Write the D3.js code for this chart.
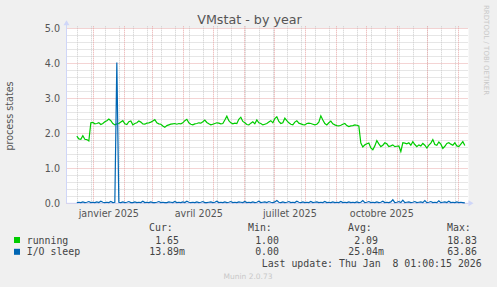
<!DOCTYPE html>
<html>
<head>
<meta charset="utf-8">
<script src="https://cdn.jsdelivr.net/npm/d3@7"></script>
<style>
  body { margin: 0; background: #f0f0f0; }
  svg { display: block; font-family: "DejaVu Sans", sans-serif; }
  .mono { font-family: "DejaVu Sans Mono", monospace; }
</style>
</head>
<body>
<div id="chart"></div>
<script>
// values, one every 2 days from 15 Dec 2024
var running = [
  1.92,1.84,1.83,1.93,1.83,1.82,1.78,2.30,2.31,2.27,
  2.28,2.30,2.25,2.28,2.33,2.36,2.41,2.36,2.28,2.24,
  2.27,2.28,2.32,2.36,2.27,2.25,2.33,2.35,2.24,2.28,
  2.30,2.35,2.32,2.27,2.26,2.29,2.30,2.32,2.35,2.39,
  2.30,2.27,2.26,2.21,2.17,2.22,2.24,2.26,2.27,2.28,
  2.26,2.28,2.27,2.30,2.36,2.40,2.30,2.26,2.24,2.27,
  2.28,2.30,2.29,2.33,2.38,2.31,2.27,2.24,2.26,2.28,
  2.30,2.29,2.27,2.28,2.38,2.49,2.36,2.30,2.27,2.29,
  2.28,2.40,2.46,2.34,2.30,2.25,2.24,2.29,2.33,2.27,
  2.38,2.30,2.28,2.24,2.26,2.28,2.32,2.36,2.30,2.42,
  2.47,2.34,2.28,2.30,2.43,2.36,2.30,2.26,2.24,2.32,
  2.36,2.29,2.27,2.25,2.24,2.28,2.29,2.28,2.26,2.24,
  2.26,2.32,2.50,2.38,2.28,2.24,2.30,2.35,2.27,2.24,
  2.22,2.21,2.23,2.26,2.28,2.22,2.19,2.21,2.22,2.24,
  2.23,2.21,1.72,1.61,1.67,1.70,1.72,1.58,1.53,1.64,
  1.79,1.70,1.62,1.66,1.73,1.70,1.62,1.64,1.67,1.62,
  1.63,1.64,1.48,1.73,1.72,1.70,1.73,1.66,1.76,1.68,
  1.62,1.67,1.64,1.71,1.66,1.58,1.66,1.72,1.82,1.68,
  1.66,1.75,1.69,1.57,1.63,1.71,1.73,1.69,1.66,1.73,
  1.64,1.62,1.69,1.76,1.65
];
var ioSleep = [
  0.02,0.03,0.02,0.04,0.02,0.03,0.05,0.02,0.03,0.02,
  0.04,0.02,0.06,0.03,0.02,0.03,0.02,0.05,0.02,0.03,
  4.02,0.03,0.02,0.04,0.02,0.03,0.05,0.02,0.02,0.04,
  0.02,0.03,0.02,0.06,0.02,0.03,0.02,0.04,0.02,0.02,
  0.03,0.05,0.02,0.03,0.02,0.02,0.04,0.03,0.02,0.05,
  0.02,0.03,0.02,0.04,0.02,0.06,0.03,0.02,0.03,0.02,
  0.04,0.02,0.03,0.05,0.02,0.02,0.03,0.04,0.02,0.03,
  0.06,0.02,0.03,0.02,0.04,0.02,0.03,0.05,0.02,0.03,
  0.02,0.04,0.03,0.02,0.05,0.02,0.03,0.02,0.04,0.02,
  0.03,0.06,0.02,0.03,0.04,0.02,0.05,0.03,0.02,0.04,
  0.08,0.03,0.02,0.04,0.02,0.03,0.05,0.02,0.03,0.02,
  0.06,0.03,0.02,0.04,0.02,0.03,0.02,0.05,0.02,0.03,
  0.04,0.02,0.03,0.02,0.05,0.02,0.03,0.02,0.04,0.02,
  0.03,0.02,0.05,0.02,0.03,0.02,0.04,0.02,0.03,0.02,
  0.04,0.02,0.03,0.08,0.02,0.03,0.05,0.02,0.03,0.02,
  0.04,0.02,0.03,0.06,0.02,0.03,0.02,0.04,0.10,0.02,
  0.03,0.05,0.02,0.09,0.02,0.03,0.04,0.02,0.03,0.05,
  0.02,0.03,0.04,0.02,0.08,0.02,0.03,0.05,0.02,0.03,
  0.02,0.07,0.02,0.03,0.04,0.02,0.06,0.02,0.03,0.02,
  0.04,0.02,0.03,0.02,0.01
];
var seriesNames = ["running", "I/O sleep"];
var seriesColors = ["#00cc00", "#0066b3"];
var curValues = ["1.65", "13.89m"];
var minValues = ["1.00", "0.00"];
var avgValues = ["2.09", "25.04m"];
var maxValues = ["18.83", "63.86"];
var yTicks = [0, 1, 2, 3, 4, 5];
var xLabels = ["janvier 2025", "avril 2025", "juillet 2025", "octobre 2025"];

var W = 497, H = 287;
var pLeft = 66.5, pRight = 466.5, pTop = 28.3, pBottom = 203.3;

var svg = d3.select("#chart").append("svg")
  .attr("width", W).attr("height", H);

svg.append("rect").attr("width", W).attr("height", H).attr("fill", "#f0f0f0");

var x = d3.scaleUtc()
  .domain([new Date(Date.UTC(2024, 11, 5, 4)), new Date(Date.UTC(2026, 0, 9, 4))])
  .range([pLeft, pRight]);
var y = d3.scaleLinear().domain([0, 5]).range([pBottom, pTop]);

var start = Date.UTC(2024, 11, 15, 12);
function dayAt(i) { return new Date(start + i * 2 * 864e5); }

// plot background
svg.append("rect")
  .attr("x", pLeft).attr("y", pTop)
  .attr("width", pRight - pLeft + 2).attr("height", pBottom - pTop)
  .attr("fill", "#ffffff");

// grid
var grid = svg.append("g");
var minorY = d3.range(0, 5.01, 0.2).filter(function (v) { return Math.abs(v - Math.round(v)) > 0.01; });
grid.selectAll(".hmin").data(minorY).enter().append("line")
  .attr("x1", pLeft).attr("x2", pRight + 1)
  .attr("y1", function (d) { return Math.round(y(d)) + 0.5; })
  .attr("y2", function (d) { return Math.round(y(d)) + 0.5; })
  .attr("stroke", "#cccccc").attr("stroke-dasharray", "1,1");

var weeks = d3.utcMonday.range(new Date(Date.UTC(2024, 11, 16)), x.domain()[1])
  .filter(function (d, i) { return i % 2 === 0; });
grid.selectAll(".vmin").data(weeks).enter().append("line")
  .attr("x1", function (d) { return Math.round(x(d)) + 0.5; })
  .attr("x2", function (d) { return Math.round(x(d)) + 0.5; })
  .attr("y1", pTop - 2).attr("y2", pBottom)
  .attr("stroke", "#cccccc").attr("stroke-dasharray", "1,1");

grid.selectAll(".hmaj").data(yTicks).enter().append("line")
  .attr("x1", pLeft).attr("x2", pRight + 1)
  .attr("y1", function (d) { return Math.round(y(d)) + 0.5; })
  .attr("y2", function (d) { return Math.round(y(d)) + 0.5; })
  .attr("stroke", "#e8a8a8").attr("stroke-dasharray", "1,1");

var months = d3.utcMonth.range(x.domain()[0], x.domain()[1]);
grid.selectAll(".vmaj").data(months).enter().append("line")
  .attr("x1", function (d) { return Math.round(x(d)) + 0.5; })
  .attr("x2", function (d) { return Math.round(x(d)) + 0.5; })
  .attr("y1", pTop - 2).attr("y2", pBottom)
  .attr("stroke", "#e8a8a8").attr("stroke-dasharray", "1,1");

// axes (rrdtool style)
svg.append("line").attr("x1", pLeft).attr("x2", pLeft).attr("y1", pBottom).attr("y2", pTop - 4)
  .attr("stroke", "#cfd6f8");
svg.append("path").attr("d", "M" + (pLeft - 3) + "," + (pTop - 3) + "L" + (pLeft + 3) + "," + (pTop - 3) + "L" + pLeft + "," + (pTop - 8) + "Z")
  .attr("fill", "#cfd6f8");
svg.append("line").attr("x1", pLeft).attr("x2", pRight + 3).attr("y1", pBottom).attr("y2", pBottom)
  .attr("stroke", "#cfd6f8");
svg.append("path").attr("d", "M" + (pRight + 2) + "," + (pBottom - 3) + "L" + (pRight + 2) + "," + (pBottom + 3) + "L" + (pRight + 7) + "," + pBottom + "Z")
  .attr("fill", "#cfd6f8");

// y tick labels
svg.selectAll(".ylab").data(yTicks).enter().append("text")
  .attr("x", 60).attr("y", function (d) { return y(d) + 3.5; })
  .attr("text-anchor", "end").attr("font-size", "9.6px").attr("fill", "#555")
  .text(function (d) { return d3.format(".1f")(d); });

// x labels, centred mid-month on each quarter
var quarters = [new Date(Date.UTC(2025, 0, 1)), new Date(Date.UTC(2025, 3, 1)), new Date(Date.UTC(2025, 6, 1)), new Date(Date.UTC(2025, 9, 1))];
svg.selectAll(".xlab").data(quarters).enter().append("text")
  .attr("x", function (d) { return x(new Date(+d + 15.5 * 864e5)); })
  .attr("y", 217)
  .attr("text-anchor", "middle").attr("font-size", "9.6px").attr("fill", "#555")
  .text(function (d, i) { return xLabels[i]; });

// series lines
var line = d3.line()
  .x(function (d, i) { return x(dayAt(i)); })
  .y(function (d) { return y(d); });
[running, ioSleep].forEach(function (s, k) {
  svg.append("path").datum(s)
    .attr("d", line)
    .attr("fill", "none")
    .attr("stroke", seriesColors[k])
    .attr("stroke-width", 1.2);
});

// title and side texts
svg.append("text").attr("x", 249.5).attr("y", 23.5).attr("text-anchor", "middle")
  .attr("font-size", "12.7px").attr("fill", "#555").text("VMstat - by year");
svg.append("text").attr("transform", "translate(13,116) rotate(-90)")
  .attr("text-anchor", "middle").attr("font-size", "9.6px").attr("fill", "#555")
  .text("process states");
svg.append("text").attr("transform", "translate(484,5) rotate(90)")
  .attr("font-size", "7px").attr("fill", "#c8c8c8")
  .text("RRDTOOL / TOBI OETIKER");
svg.append("text").attr("x", 248).attr("y", 279).attr("text-anchor", "middle")
  .attr("font-size", "7.5px").attr("fill", "#c8c8c8").text("Munin 2.0.73");

// legend
var cw = 5.96;
var leg = svg.append("g").attr("class", "mono").attr("font-size", "9.9px").attr("fill", "#444");
[["Cur:", 149], ["Min:", 248], ["Avg:", 348], ["Max:", 447]].forEach(function (h) {
  leg.append("text").attr("x", h[1]).attr("y", 231).text(h[0]);
});
function numLen(s) { return s.replace(/[a-zA-Z]$/, "").length; }
var cols = [[curValues, 179], [minValues, 279], [avgValues, 378], [maxValues, 477]];
seriesNames.forEach(function (name, k) {
  var yy = 243.5 + k * 11.8;
  svg.append("rect").attr("x", 14).attr("y", yy - 6.5).attr("width", 6).attr("height", 6)
    .attr("fill", seriesColors[k]);
  leg.append("text").attr("x", 26.7).attr("y", yy).text(name);
  cols.forEach(function (c) {
    var v = c[0][k];
    leg.append("text").attr("x", c[1] - numLen(v) * cw).attr("y", yy).text(v);
  });
});
leg.append("text").attr("x", 261.7).attr("y", 267).text("Last update: Thu Jan \u00a08 01:00:15 2026");
</script>
</body>
</html>
